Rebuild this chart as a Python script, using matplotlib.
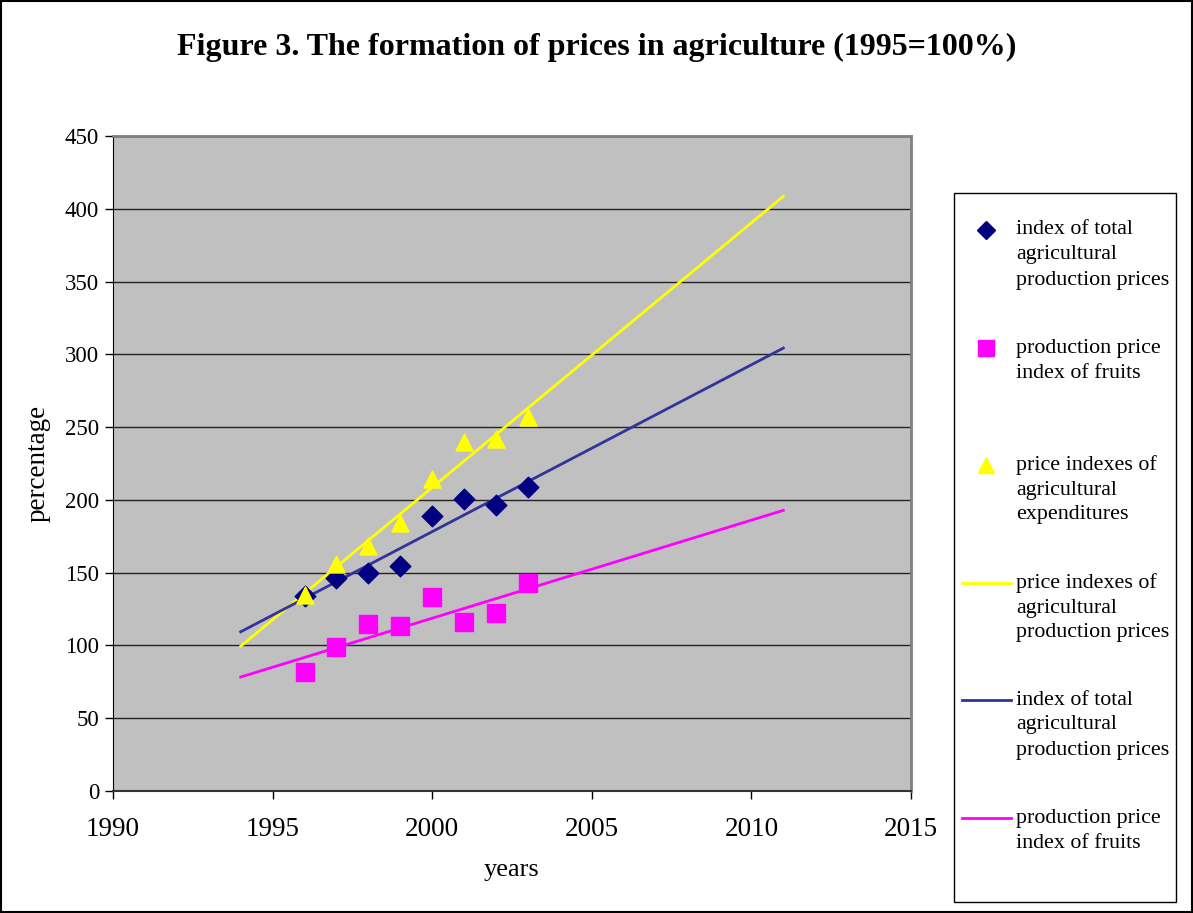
import numpy as np
import matplotlib.pyplot as plt
from matplotlib.lines import Line2D

plt.rcParams["font.family"] = ["Liberation Serif", "DejaVu Serif"]

years = [1996, 1997, 1998, 1999, 2000, 2001, 2002, 2003]
total_prices = [134, 146, 150, 154.6, 189, 200.4, 196.5, 209]
fruit_prices = [81.5, 99, 115, 113.5, 133, 116, 122, 142.7]
expenditures = [134.6, 156, 168.5, 184.3, 214.3, 239.5, 241.5, 257]

trend_start, trend_end = 1994, 2011

W, H = 1193, 913


def fx(px):
    return px / W


def fy(py):
    return 1 - py / H


fig = plt.figure(figsize=(W / 100, H / 100), dpi=100)
ax = fig.add_axes([fx(113), fy(791), 798 / W, 655 / H])
ax.set_facecolor("#c0c0c0")

# linear trend lines, backcast to 1994 and forecast to 2011 like Excel
tx = np.array([trend_start, trend_end])
trend_colors = [(expenditures, "#ffff00"), (total_prices, "#333399"), (fruit_prices, "#ff00ff")]
for vals, col in trend_colors:
    k, b = np.polyfit(years, vals, 1)
    ax.plot(tx, k * tx + b, color=col, lw=2, zorder=3)

ax.scatter(years, total_prices, marker="D", s=110, color="#000080", zorder=4)
ax.scatter(years, fruit_prices, marker="s", s=150, color="#ff00ff", zorder=4)
ax.scatter(years, expenditures, marker="^", s=150, color="#ffff00", zorder=4)

ax.set_xlim(1990, 2015)
ax.set_ylim(0, 450)
ax.set_xticks(range(1990, 2016, 5))
ax.set_yticks(range(0, 451, 50))
ax.yaxis.grid(True, color="#222222", lw=1)
ax.set_axisbelow(True)
ax.tick_params(axis="x", labelsize=19.5, direction="out", length=6, width=1, pad=13)
ax.tick_params(axis="y", labelsize=16.5, direction="out", length=6, width=1, pad=4)
for side in ["top", "right"]:
    ax.spines[side].set_color("#808080")
    ax.spines[side].set_linewidth(2)
ax.spines["left"].set_color("black")
ax.spines["bottom"].set_color("#333333")
ax.spines["bottom"].set_linewidth(1.5)

ax.set_xlabel("years", fontsize=19, labelpad=12)
ax.set_ylabel("percentage", fontsize=19.5, labelpad=10)

fig.text(0.5, fy(47), "Figure 3. The formation of prices in agriculture (1995=100%)",
         ha="center", va="center", fontsize=23, fontweight="bold")

# legend drawn by hand to match the Excel layout
fig.patches.append(plt.Rectangle((fx(954), fy(902)), 222 / W, 709 / H, transform=fig.transFigure,
                                 fill=False, edgecolor="black", lw=1))
legend_rows = [
    (230, dict(ls="none", marker="D", ms=9, color="#000080"),
     ["index of total", "agricultural", "production prices"]),
    (348, dict(ls="none", marker="s", ms=11, color="#ff00ff"),
     ["production price", "index of fruits"]),
    (465, dict(ls="none", marker="^", ms=11, color="#ffff00"),
     ["price indexes of", "agricultural", "expenditures"]),
    (583, dict(color="#ffff00", lw=2),
     ["price indexes of", "agricultural", "production prices"]),
    (700, dict(color="#333399", lw=2),
     ["index of total", "agricultural", "production prices"]),
    (818, dict(color="#ff00ff", lw=2),
     ["production price", "index of fruits"]),
]
for y0, style, lines in legend_rows:
    if style.get("ls") == "none":
        hx = [fx(986)]
    else:
        hx = [fx(962), fx(1011)]
    fig.add_artist(Line2D(hx, [fy(y0)] * len(hx), transform=fig.transFigure, **style))
    for i, txt in enumerate(lines):
        fig.text(fx(1016), fy(y0 + 25 * i), txt, ha="left", va="center", fontsize=15.8)

# outer border of the chart
fig.patches.append(plt.Rectangle((0.001, 0.001), 0.998, 0.998, transform=fig.transFigure,
                                 fill=False, edgecolor="black", lw=1.5))

plt.savefig("out.png", dpi=100)
